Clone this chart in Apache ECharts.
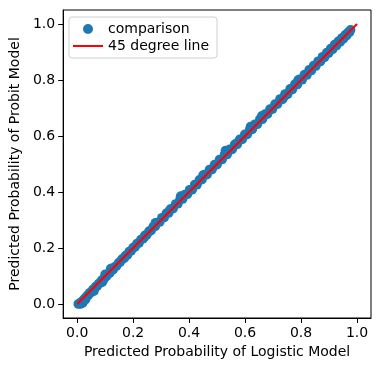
<!DOCTYPE html>
<html>
<head>
<meta charset="utf-8">
<script src="https://cdn.jsdelivr.net/npm/echarts@6/dist/echarts.min.js"></script>
<style>html,body{margin:0;padding:0;background:#fff}#c{width:381px;height:371px}</style>
</head>
<body>
<div id="c"></div>
<script>
var logisticProb = [0.004,0.009,0.013,0.018,0.022,0.027,0.031,0.036,0.041,0.045,0.05,0.056,0.061,0.066,0.072,0.077,0.083,0.088,0.094,0.1,0.105,0.111,0.117,0.123,0.129,0.135,0.141,0.148,0.154,0.16,0.167,0.173,0.18,0.186,0.193,0.2,0.207,0.214,0.221,0.228,0.235,0.242,0.249,0.257,0.264,0.272,0.279,0.287,0.295,0.303,0.311,0.319,0.327,0.335,0.343,0.352,0.36,0.368,0.377,0.385,0.394,0.402,0.411,0.42,0.428,0.437,0.446,0.455,0.464,0.473,0.482,0.491,0.5,0.509,0.518,0.527,0.536,0.545,0.554,0.563,0.572,0.581,0.59,0.599,0.608,0.617,0.626,0.635,0.644,0.653,0.662,0.671,0.68,0.689,0.698,0.707,0.716,0.725,0.734,0.743,0.752,0.761,0.769,0.778,0.787,0.795,0.804,0.812,0.821,0.829,0.837,0.845,0.853,0.861,0.869,0.877,0.884,0.892,0.899,0.906,0.913,0.92,0.927,0.933,0.94,0.946,0.952,0.958,0.963,0.968,0.973,0.977,
  0.37,0.1,0.12,0.53,0.62,0.02,0.012,0.03,0.06,0.09,0.79,0.66,0.28,0.45,0.17,0.24,0.33,0.41,0.57,0.74,0.87,0.95];
var probitProb = [0.000,0.002,0.006,0.009,0.013,0.020,0.022,0.030,0.033,0.040,0.042,0.051,0.053,0.062,0.064,0.073,0.076,0.085,0.087,0.097,0.099,0.108,0.111,0.121,0.123,0.133,0.136,0.147,0.150,0.160,0.163,0.173,0.176,0.187,0.190,0.201,0.204,0.216,0.218,0.230,0.233,0.245,0.247,0.260,0.262,0.276,0.277,0.291,0.293,0.308,0.309,0.324,0.325,0.340,0.341,0.357,0.358,0.374,0.375,0.391,0.392,0.408,0.409,0.426,0.426,0.443,0.444,0.462,0.462,0.480,0.480,0.498,0.498,0.516,0.516,0.534,0.534,0.552,0.552,0.570,0.570,0.588,0.588,0.606,0.606,0.624,0.624,0.642,0.642,0.660,0.660,0.678,0.678,0.696,0.696,0.714,0.714,0.732,0.731,0.750,0.749,0.768,0.766,0.785,0.784,0.802,0.801,0.819,0.818,0.836,0.834,0.851,0.850,0.867,0.866,0.883,0.881,0.898,0.896,0.912,0.910,0.926,0.923,0.938,0.936,0.950,0.948,0.961,0.959,0.970,0.970,0.979,
  0.385,0.106,0.126,0.548,0.634,0.004,0.0,0.016,0.046,0.078,0.80,0.672,0.29,0.46,0.166,0.238,0.333,0.408,0.574,0.741,0.869,0.947];
var lineX = [0, 1];
var lineY = [0, 1];
var tickLabels = ['0.0','0.2','0.4','0.6','0.8','1.0'];
var tickValues = [0, 0.2, 0.4, 0.6, 0.8, 1.0];

var scatterData = logisticProb.map(function(v, i){ return [v, probitProb[i]]; });
var lineData = lineX.map(function(v, i){ return [v, lineY[i]]; });

var font = 'DejaVu Sans';
var fs = 14;
function axisCfg(name, gap) {
  return {
    type: 'value', min: -0.05, max: 1.05, interval: 0.2,
    name: name, nameLocation: 'middle', nameGap: gap,
    nameTextStyle: {fontFamily: font, fontSize: fs, color: '#000'},
    axisLine: {show: true, onZero: false, lineStyle: {color: '#000'}},
    axisTick: {show: true, length: 5, lineStyle: {color: '#000'}, customValues: tickValues},
    axisLabel: {fontFamily: font, fontSize: fs, color: '#000', margin: 8,
      customValues: tickValues,
      formatter: function(v){ return tickLabels[Math.round(v/0.2)]; }},
    splitLine: {show: false}
  };
}
var chart = echarts.init(document.getElementById('c'));
chart.setOption({
  animation: false,
  backgroundColor: '#fff',
  textStyle: {fontFamily: font},
  grid: {left: 61, right: 10, top: 10, bottom: 53, show: true, borderColor: '#000', borderWidth: 1},
  legend: {
    orient: 'vertical', left: 69, top: 17,
    padding: [5, 8, 5, 4], itemGap: 3, itemWidth: 30, itemHeight: 10,
    backgroundColor: '#fff', borderColor: '#d0d0d0', borderWidth: 1, borderRadius: 3,
    textStyle: {fontFamily: font, fontSize: fs, color: '#000'},
    itemTextGap: 10,
    data: [
      {name: 'comparison', icon: 'circle'},
      {name: '45 degree line', icon: 'path://M0,0 L30,0 L30,2 L0,2 Z'}
    ]
  },
  xAxis: axisCfg('Predicted Probability of Logistic Model', 27),
  yAxis: axisCfg('Predicted Probability of Probit Model', 37),
  series: [
    {name: 'comparison', type: 'scatter', data: scatterData, symbolSize: 9.7,
     itemStyle: {color: '#1f77b4', opacity: 1}, z: 2},
    {name: '45 degree line', type: 'line', data: lineData, symbol: 'none',
     lineStyle: {color: '#ff0000', width: 2.1}, itemStyle: {color: '#ff0000'}, z: 3}
  ]
});
</script>
</body>
</html>
